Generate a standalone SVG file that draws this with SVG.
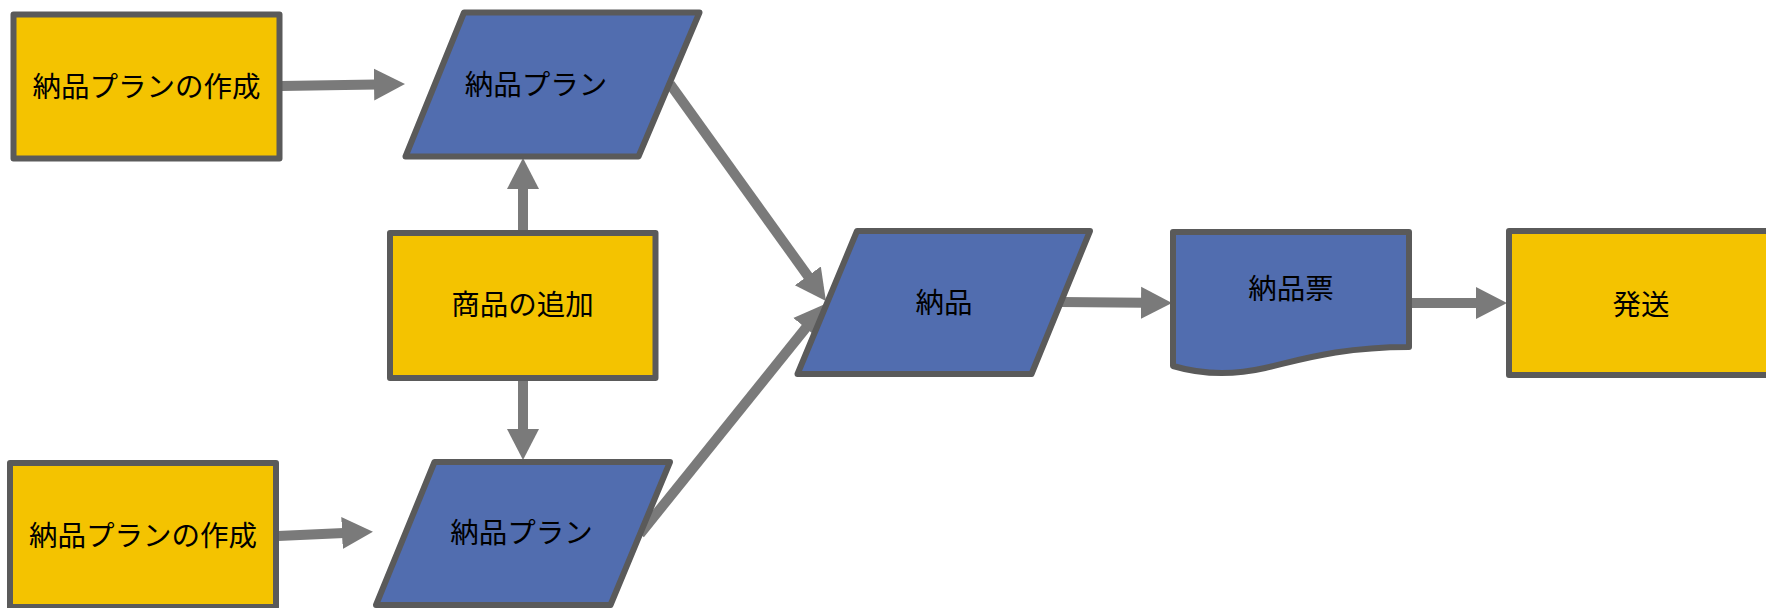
<svg xmlns="http://www.w3.org/2000/svg" width="1766" height="608" viewBox="0 0 1766 608">
<style>
.proc{fill:#f4c300;stroke:#5a5a5a;stroke-width:6;stroke-linejoin:round}
.data{fill:#516daf;stroke:#5a5a5a;stroke-width:6;stroke-linejoin:round}
.lbl{font-family:"Noto Sans CJK JP","Noto Sans",sans-serif;font-size:28.5px;fill:#000;text-anchor:middle;dominant-baseline:central}
.conn{fill:none;stroke:#7a7a7a;stroke-width:10;marker-end:url(#ah)}
</style>
<defs>
<marker id="ah" markerUnits="userSpaceOnUse" markerWidth="34" markerHeight="34" viewBox="0 -17 34 34" refX="2" refY="0" orient="auto">
<path d="M0,-16 L31,0 L0,16 Z" fill="#7a7a7a"/>
</marker>
</defs>
<rect width="1766" height="608" fill="#ffffff"/>
<g id="connectors">
<path class="conn" d="M281,86 L376,84.5"/>
<path class="conn" d="M278,536 L344,533"/>
<path class="conn" d="M523,233 L523,187"/>
<path class="conn" d="M523,378 L523,431"/>
<path class="conn" d="M670,84 L809,277.5"/>
<path class="conn" d="M640,534 L807,326.5"/>
<path class="conn" d="M1061,302 L1143,302.8"/>
<path class="conn" d="M1409,303 L1478,303"/>
</g>
<g id="create-plan-1">
<rect class="proc" x="13.5" y="14.5" width="266" height="144"/>
<text class="lbl" x="146.5" y="84">納品プランの作成</text>
</g>
<g id="plan-1">
<polygon class="data" points="464,12.5 699.5,12.5 638.5,156.5 405.5,156.5"/>
<text class="lbl" x="536" y="82">納品プラン</text>
</g>
<g id="add-item">
<rect class="proc" x="390" y="233" width="265.5" height="145"/>
<text class="lbl" x="522.6" y="302">商品の追加</text>
</g>
<g id="create-plan-2">
<rect class="proc" x="10" y="463" width="266" height="144"/>
<text class="lbl" x="143" y="533">納品プランの作成</text>
</g>
<g id="plan-2">
<polygon class="data" points="434.5,462 670,462 610.5,605 376,605"/>
<text class="lbl" x="521.5" y="530">納品プラン</text>
</g>
<g id="delivery">
<polygon class="data" points="857,231 1090,231 1031.5,374 797.5,374"/>
<text class="lbl" x="944" y="300">納品</text>
</g>
<g id="delivery-slip">
<path class="data" d="M1173,232 H1409 V347 C1340,347 1300,360 1265,368 C1230,376 1200,374 1173,366 Z"/>
<text class="lbl" x="1291" y="286">納品票</text>
</g>
<g id="ship">
<rect class="proc" x="1509" y="231" width="265" height="144"/>
<text class="lbl" x="1641" y="302">発送</text>
</g>
</svg>
